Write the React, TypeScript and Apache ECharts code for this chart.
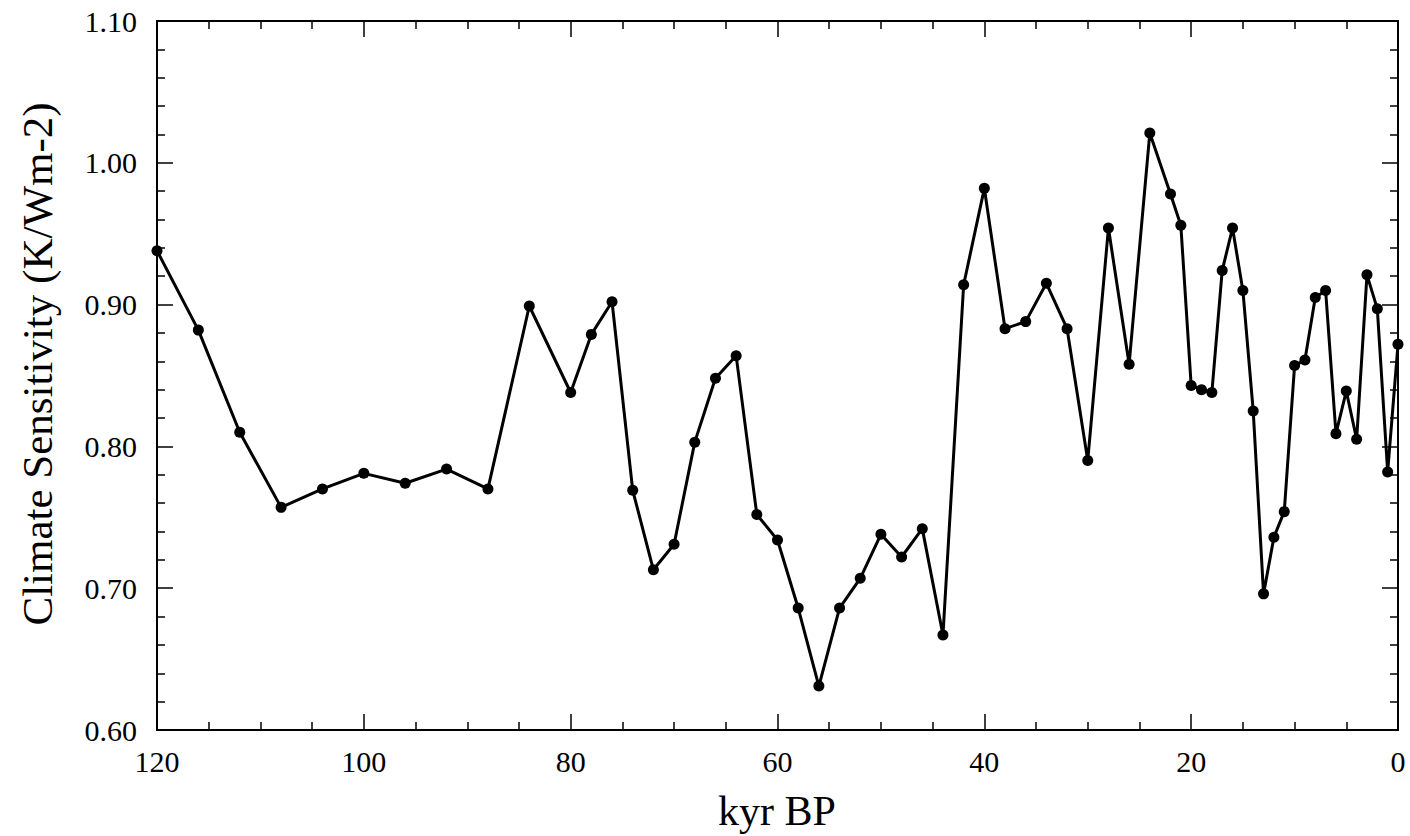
import React, { useEffect, useRef } from "react";
import * as echarts from "echarts";

const kyr = [
  120, 116, 112, 108, 104, 100, 96, 92, 88, 84,
  80, 78, 76, 74, 72, 70, 68, 66, 64, 62,
  60, 58, 56, 54, 52, 50, 48, 46, 44, 42,
  40, 38, 36, 34, 32, 30, 28, 26, 24, 22,
  21, 20, 19, 18, 17, 16, 15, 14, 13, 12,
  11, 10, 9, 8, 7, 6, 5, 4, 3, 2,
  1, 0,
];

const sensitivity = [
  0.938, 0.882, 0.81, 0.757, 0.77, 0.781, 0.774, 0.784, 0.77, 0.899,
  0.838, 0.879, 0.902, 0.769, 0.713, 0.731, 0.803, 0.848, 0.864, 0.752,
  0.734, 0.686, 0.631, 0.686, 0.707, 0.738, 0.722, 0.742, 0.667, 0.914,
  0.982, 0.883, 0.888, 0.915, 0.883, 0.79, 0.954, 0.858, 1.021, 0.978,
  0.956, 0.843, 0.84, 0.838, 0.924, 0.954, 0.91, 0.825, 0.696, 0.736,
  0.754, 0.857, 0.861, 0.905, 0.91, 0.809, 0.839, 0.805, 0.921, 0.897,
  0.782, 0.872,
];

const xTitle = "kyr BP";
const yTitle = "Climate Sensitivity (K/Wm-2)";

const FONT = "'Liberation Serif', 'DejaVu Serif', serif";

function tickAxis(kind: "x" | "y", position: string, withTicks: boolean, label: any) {
  const isX = kind === "x";
  return {
    type: "value",
    position,
    offset: 0,
    min: isX ? 0 : 0.6,
    max: isX ? 120 : 1.1,
    interval: isX ? 20 : 0.1,
    inverse: isX,
    axisLine: { show: true, onZero: false, lineStyle: { color: "#000", width: 2 } },
    axisTick: {
      show: withTicks,
      inside: true,
      length: 16,
      lineStyle: { color: "#000", width: 1.5 },
    },
    minorTick: {
      show: withTicks,
      splitNumber: isX ? 4 : 5,
      length: 8,
      lineStyle: { color: "#000", width: 1.5 },
    },
    splitLine: { show: false },
    minorSplitLine: { show: false },
    axisLabel: label,
  };
}

export default function App() {
  const ref = useRef<HTMLDivElement>(null);

  useEffect(() => {
    if (!ref.current) return;
    const chart = echarts.init(ref.current, null, { renderer: "svg" });

    const points = kyr.map((k, i) => [k, sensitivity[i]]);

    chart.setOption({
      animation: false,
      backgroundColor: "#fff",
      grid: { left: 157, right: 12, top: 21, bottom: 106, containLabel: false },
      xAxis: [
        tickAxis("x", "bottom", false, {
          show: true,
          color: "#000",
          fontFamily: FONT,
          fontSize: 30,
          margin: 16,
        }),
        tickAxis("x", "bottom", true, { show: false }),
        tickAxis("x", "top", true, { show: false }),
      ],
      yAxis: [
        tickAxis("y", "left", false, {
          show: true,
          color: "#000",
          fontFamily: FONT,
          fontSize: 30,
          margin: 20,
          formatter: (v: number) => v.toFixed(2),
        }),
        tickAxis("y", "left", true, { show: false }),
        tickAxis("y", "right", true, { show: false }),
      ],
      graphic: [
        {
          type: "text",
          x: 777,
          y: 811,
          style: {
            text: xTitle,
            fontFamily: FONT,
            fontSize: 42,
            fill: "#000",
            textAlign: "center",
            textVerticalAlign: "middle",
          },
        },
        {
          type: "text",
          x: 37,
          y: 364,
          rotation: Math.PI / 2,
          style: {
            text: yTitle,
            fontFamily: FONT,
            fontSize: 43,
            fill: "#000",
            textAlign: "center",
            textVerticalAlign: "middle",
          },
        },
      ],
      series: [
        {
          type: "line",
          xAxisIndex: 0,
          yAxisIndex: 0,
          data: points,
          clip: false,
          symbol: "circle",
          symbolSize: 11,
          showSymbol: true,
          lineStyle: { color: "#000", width: 3 },
          itemStyle: { color: "#000" },
        },
      ],
    });

    return () => chart.dispose();
  }, []);

  return (
    <div
      ref={ref}
      style={{ position: "absolute", left: 0, top: 0, width: 1410, height: 836 }}
    />
  );
}
